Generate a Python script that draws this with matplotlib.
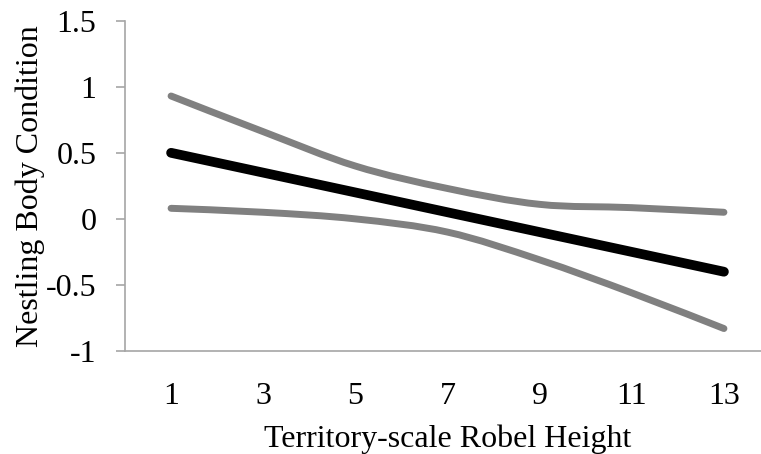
import numpy as np
import matplotlib
matplotlib.use("Agg")
import matplotlib.pyplot as plt
from matplotlib.path import Path
from matplotlib.patches import PathPatch

# Robel height (territory scale) and model predictions
robel_height = [1, 3, 5, 7, 9, 11, 13]
fitted = [0.50, 0.35, 0.20, 0.05, -0.10, -0.25, -0.40]
upper_ci = [0.93, 0.66, 0.40, 0.23, 0.11, 0.085, 0.05]
lower_ci = [0.08, 0.05, 0.00, -0.10, -0.31, -0.56, -0.83]

x_ticks = [1, 3, 5, 7, 9, 11, 13]
y_ticks = [-1, -0.5, 0, 0.5, 1, 1.5]
y_ticklabels = ["-1", "-0.5", "0", "0.5", "1", "1.5"]

plt.rcParams["font.family"] = ["Liberation Serif", "DejaVu Serif"]

fig = plt.figure(figsize=(7.61, 4.54), dpi=100)
ax = fig.add_axes([125 / 761, 103 / 454, 645 / 761, 330.3 / 454])


def smooth_path(xs, ys, tension=1 / 6):
    """Cubic Bezier path through the points (Catmull-Rom style smoothing)."""
    pts = np.column_stack([xs, ys]).astype(float)
    n = len(pts)
    verts = [pts[0]]
    codes = [Path.MOVETO]
    for i in range(n - 1):
        p0 = pts[i - 1] if i > 0 else pts[i]
        p1 = pts[i]
        p2 = pts[i + 1]
        p3 = pts[i + 2] if i + 2 < n else pts[i + 1]
        c1 = p1 + (p2 - p0) * tension
        c2 = p2 - (p3 - p1) * tension
        verts += [c1, c2, p2]
        codes += [Path.CURVE4] * 3
    return Path(verts, codes)


for ys, color, lw, z in [(upper_ci, "#808080", 5.0, 2),
                         (lower_ci, "#808080", 5.0, 2),
                         (fitted, "#000000", 7.0, 3)]:
    patch = PathPatch(smooth_path(robel_height, ys), facecolor="none",
                      edgecolor=color, lw=lw, capstyle="round",
                      joinstyle="round", zorder=z)
    ax.add_patch(patch)

ax.set_xlim(0, 14)
ax.set_ylim(-1, 1.5)
ax.set_xticks(x_ticks)
ax.set_xticklabels([str(v) for v in x_ticks])
ax.set_yticks(y_ticks)
ax.set_yticklabels(y_ticklabels)

for side in ["top", "right"]:
    ax.spines[side].set_visible(False)
for side in ["left", "bottom"]:
    ax.spines[side].set_color("#a6a6a6")
    ax.spines[side].set_linewidth(1.2)

ax.tick_params(axis="y", direction="out", length=6.5, width=1.2,
               color="#a6a6a6", labelsize=23, pad=14)
ax.tick_params(axis="x", length=0, labelsize=23, pad=22)

ax.set_xlabel("Territory-scale Robel Height", fontsize=23, labelpad=10)
ax.set_ylabel("Nestling Body Condition", fontsize=23, labelpad=1)

fig.savefig("out.png", dpi=100)
